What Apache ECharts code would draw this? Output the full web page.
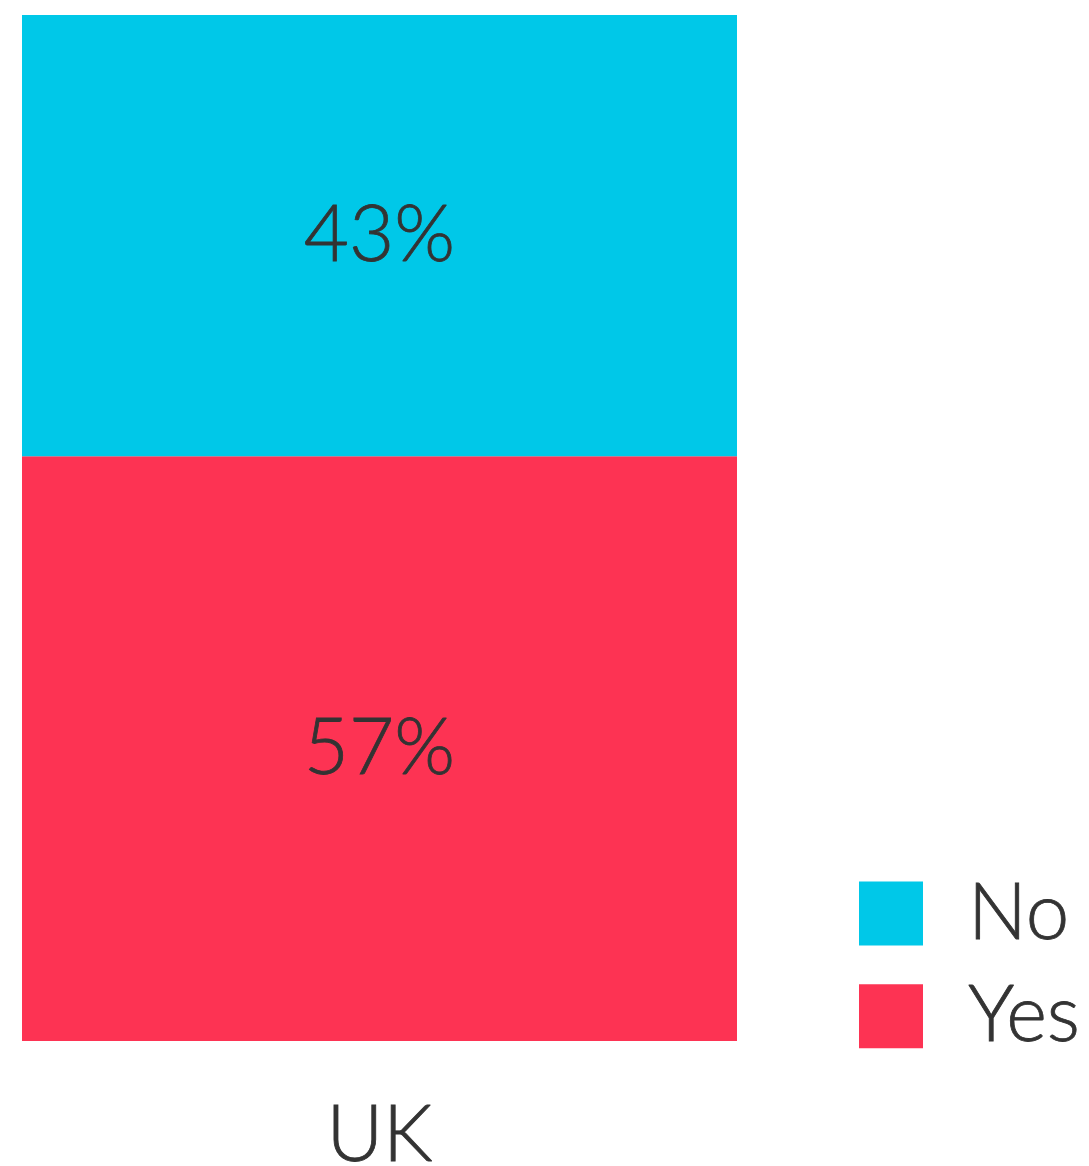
<!DOCTYPE html>
<html>
<head>
<meta charset="utf-8">
<title>UK Yes / No</title>
<script src="https://cdn.jsdelivr.net/npm/echarts@6/dist/echarts.min.js"></script>
<style>
  html, body { margin: 0; padding: 0; background: #ffffff; }
  #chart { width: 1089px; height: 1166px; }
</style>
</head>
<body>
<div id="chart"></div>
<script>
// Share of answers per country, in percent
const categories = ['UK'];
const yesValues = [57];
const noValues = [43];
const seriesNames = ['Yes', 'No'];

const FONT = 'Lato';
const TEXT = '#333333';
const YES_COLOR = '#FD3353';
const NO_COLOR = '#00C8E8';
const TEXT_SIZE = 78;

// shared look for every text in the chart: light face, slightly thickened stroke
const textLook = {
  color: TEXT,
  fontFamily: FONT,
  fontWeight: 300,
  fontSize: TEXT_SIZE,
  textBorderColor: TEXT,
  textBorderWidth: 0.8
};

const chart = echarts.init(document.getElementById('chart'), null, { renderer: 'canvas' });

const valueLabel = Object.assign({
  show: true,
  position: 'inside',
  formatter: '{c}%'
}, textLook);

chart.setOption({
  animation: false,
  grid: {
    left: 22, right: 352, top: 15, bottom: 125,
    containLabel: false,
    outerBoundsMode: 'none'
  },
  legend: {
    orient: 'vertical',
    left: 859,
    top: 874,
    padding: 0,
    itemWidth: 64,
    itemHeight: 64,
    itemGap: 24,
    icon: 'rect',
    data: ['No', 'Yes'],
    textStyle: Object.assign({ padding: [0, 0, 0, 40] }, textLook)
  },
  xAxis: {
    type: 'category',
    data: categories,
    axisLine: { show: false },
    axisTick: { show: false },
    axisLabel: Object.assign({ margin: 56 }, textLook)
  },
  yAxis: {
    type: 'value',
    min: 0,
    max: 100,
    show: false
  },
  series: [
    {
      name: seriesNames[0],
      type: 'bar',
      stack: 'total',
      barWidth: '100%',
      data: yesValues,
      itemStyle: { color: YES_COLOR },
      label: valueLabel
    },
    {
      name: seriesNames[1],
      type: 'bar',
      stack: 'total',
      barWidth: '100%',
      data: noValues,
      itemStyle: { color: NO_COLOR },
      label: valueLabel
    }
  ]
});
</script>
</body>
</html>
